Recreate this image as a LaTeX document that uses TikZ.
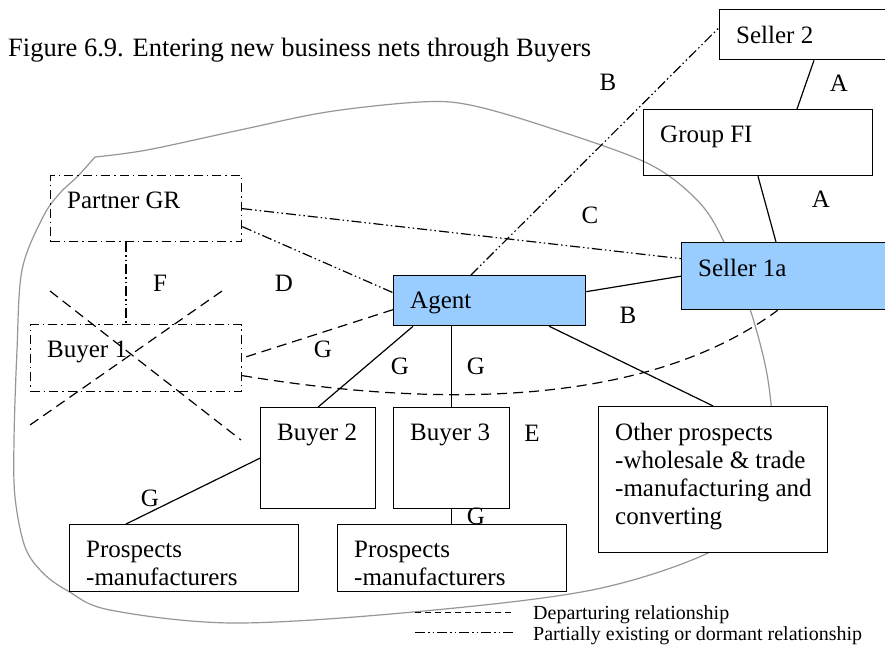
\documentclass[tikz,border=0pt]{standalone}
\usepackage{fontspec}
\setmainfont{Liberation Serif}
\usepackage{xcolor}
\usepackage{tikz}

\definecolor{agentblue}{RGB}{153,204,255}
\definecolor{netgray}{RGB}{150,150,150}

\begin{document}
\begin{tikzpicture}[x=1pt, y=-1pt,
        box/.style={draw, line width=1.3pt, fill=white, inner sep=0pt, anchor=north west},
        dbox/.style={box, fill=none, line width=1.2pt,
                     dash pattern=on 9pt off 4pt on 1.5pt off 4pt},
        txt/.style={anchor=north west, inner sep=0pt, align=left, xshift=17pt,
                    yshift=-17pt, font=\fontsize{25}{28}\selectfont},
        lbl/.style={inner sep=0pt, font=\fontsize{25}{28}\selectfont},
        conn/.style={line width=1.2pt},
        dep/.style={line width=1.2pt, dash pattern=on 10pt off 6pt},
        dorm/.style={line width=1.2pt,
                     dash pattern=on 10pt off 3pt on 1.5pt off 3pt on 1.5pt off 3pt}
    ]
        \useasboundingbox (0,0) rectangle (885,649);

        % the net
        \draw[netgray, line width=1.2pt] plot[smooth, tension=0.55] coordinates {
            (95,157) (147,150) (240,130) (327,112) (420,102) (470,105) (547,127)
            (647,163) (697,200) (723,240) (750,309) (768,380) (772,450) (755,510)
            (710,552) (592,590) (413,612) (233,623) (110,610) (68,591) (43,573)
            (25,547) (15,497) (14,440) (17,350) (22,270) (43,217) (60,193)
            (77,177) (95,157)};

        \node[box, minimum width=171pt, minimum height=50pt,
              label={[txt]north west:Seller 2}] (seller2) at (719,9) {};
        \node[box, fill=none, minimum width=229pt, minimum height=66pt,
              label={[txt]north west:Group FI}] (groupfi) at (643,109) {};
        \node[box, fill=agentblue, minimum width=209pt, minimum height=67pt,
              label={[txt]north west:Seller 1a}] (seller1a) at (681,242) {};
        \node[box, fill=agentblue, minimum width=192pt, minimum height=50pt,
              label={[txt]north west:Agent}] (agent) at (393,275) {};
        \node[dbox, minimum width=191pt, minimum height=66pt,
              label={[txt]north west:Partner GR}] (partner) at (50,175) {};
        \node[dbox, minimum width=211pt, minimum height=67pt,
              label={[txt]north west:Buyer 1}] (buyer1) at (30,324) {};
        \node[box, minimum width=115pt, minimum height=101pt,
              label={[txt]north west:Buyer 2}] (buyer2) at (260,407) {};
        \node[box, minimum width=116pt, minimum height=101pt,
              label={[txt]north west:Buyer 3}] (buyer3) at (393,407) {};
        \node[box, minimum width=229pt, minimum height=67pt,
              label={[txt]north west:{Prospects\\-manufacturers}}] (prosp1) at (69,524) {};
        \node[box, minimum width=229pt, minimum height=67pt,
              label={[txt]north west:{Prospects\\-manufacturers}}] (prosp2) at (337,524) {};
        \node[box, minimum width=229pt, minimum height=146pt,
              label={[txt]north west:{Other prospects\\-wholesale \& trade\\-manufacturing and\\converting}}]
              (other) at (598,406) {};

        \draw[conn] ([xshift=95pt]seller2.south west) -- ([xshift=154pt]groupfi.north west);
        \draw[conn] ([xshift=115pt]groupfi.south west) -- ([xshift=95pt]seller1a.north west);
        \draw[conn] ([yshift=9pt]agent.east) -- (seller1a.west);
        \draw[dorm] ([xshift=78pt]agent.north west) -- ([yshift=7pt]seller2.west);
        \draw[dorm] (partner.east) -- ([yshift=17.5pt]seller1a.west);
        \draw[dorm] ([yshift=-18pt]partner.east) -- ([yshift=8pt]agent.west);
        \draw[dorm] ([xshift=76pt]partner.south west) -- ([xshift=76pt]partner.south west |- buyer1.north);
        \draw[dep] ([yshift=-9pt]agent.west) -- (buyer1.east);
        \draw[dep] ([yshift=-17.5pt]buyer1.east) .. controls (420,405) and (640,412)
            .. ([xshift=-8.5pt]seller1a.south);
        \draw[conn] ([xshift=20pt]agent.south west) -- (buyer2.north);
        \draw[conn] (buyer3.north |- agent.south) -- (buyer3.north);
        \draw[conn] ([xshift=-37pt]agent.south east) -- (other.north);
        \draw[conn] (buyer2.west) -- ([xshift=57pt]prosp1.north west);
        \draw[conn] (buyer3.south) -- (buyer3.south |- prosp2.north);

        % Buyer 1 crossed out
        \coordinate (crossa1) at (50,291);
        \coordinate (crossa2) at (241,440);
        \coordinate (crossb1) at (222,291);
        \coordinate (crossb2) at (30,425);
        \draw[dep] (crossa1) -- (crossa2);
        \draw[dep] (crossb1) -- (crossb2);

        \node[lbl] (la1) at (839,83) {A};
        \node[lbl] (la2) at (821,199) {A};
        \node[lbl] (lb1) at (608,82) {B};
        \node[lbl] (lb2) at (628,315) {B};
        \node[lbl] (lc) at (590,215) {C};
        \node[lbl] (ld) at (284,283) {D};
        \node[lbl] (lf) at (160,283) {F};
        \node[lbl] (le) at (532,433) {E};
        \node[lbl] (lg1) at (323,349) {G};
        \node[lbl] (lg2) at (400,366) {G};
        \node[lbl] (lg3) at (476,366) {G};
        \node[lbl] (lg4) at (150,498) {G};
        \node[lbl] (lg5) at (476,516) {G};

        \node[lbl, anchor=west, font=\fontsize{26.5}{30}\selectfont] (title) at (8,50)
            {Figure 6.9. Entering new business nets through Buyers};

        % legend
        \coordinate (leg1a) at (415,612);
        \coordinate (leg1b) at (513,612);
        \coordinate (leg2a) at (415,632);
        \coordinate (leg2b) at (513,632);
        \draw[dep, line width=1pt, dash pattern=on 6pt off 4pt] (leg1a) -- (leg1b);
        \draw[dorm, line width=1pt] (leg2a) -- (leg2b);
        \node[anchor=west, inner sep=0pt, font=\fontsize{20}{24}\selectfont]
            (legdep) at (533,615) {Departuring relationship};
        \node[anchor=west, inner sep=0pt, font=\fontsize{20}{24}\selectfont]
            (legdorm) at (533,636) {Partially existing or dormant relationship};
    \end{tikzpicture}
\end{document}
